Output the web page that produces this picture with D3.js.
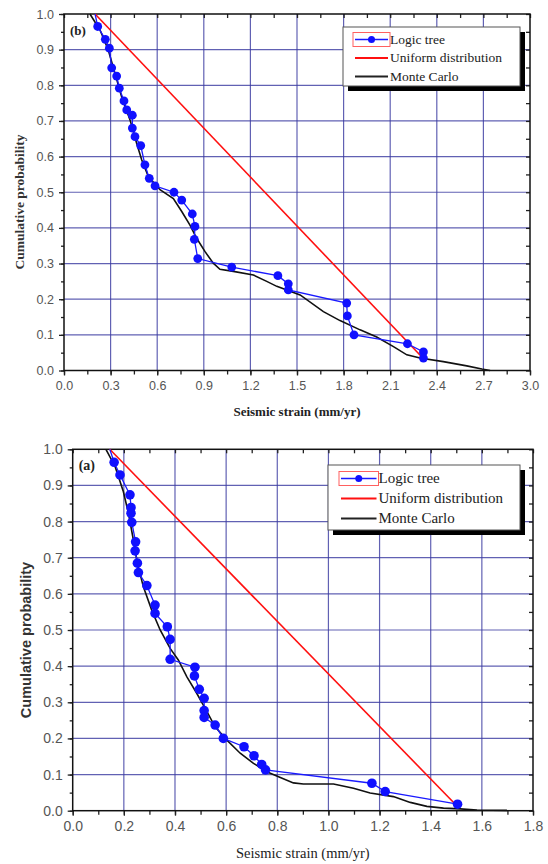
<!DOCTYPE html>
<html>
<head>
<meta charset="utf-8">
<script src="https://cdn.jsdelivr.net/npm/d3@7"></script>
<style>
  body { margin: 0; background: #fff; }
  svg { display: block; }
</style>
</head>
<body>
<script>
// panel (b): logic tree points, uniform line, monte carlo curve
var logicB = [[0.2,1.0],[0.217,0.965],[0.266,0.929],[0.292,0.904],[0.307,0.849],[0.339,0.826],[0.356,0.792],
  [0.386,0.756],[0.404,0.731],[0.44,0.716],[0.44,0.68],[0.457,0.656],[0.494,0.631],[0.521,0.577],
  [0.549,0.539],[0.586,0.518],[0.708,0.5],[0.758,0.478],[0.826,0.439],[0.843,0.404],[0.839,0.368],
  [0.861,0.314],[1.08,0.29],[1.377,0.266],[1.444,0.243],[1.444,0.226],[1.82,0.189],[1.824,0.153],
  [1.867,0.1],[2.211,0.075],[2.314,0.052],[2.314,0.035]];
var uniformB = [[0.2,1.0],[2.31,0.035]];
var monteB = [[0.167,1.0],[0.232,0.955],[0.285,0.899],[0.328,0.834],[0.371,0.768],[0.425,0.703],[0.468,0.637],
  [0.5,0.591],[0.543,0.544],[0.618,0.507],[0.704,0.482],[0.758,0.446],[0.811,0.408],[0.854,0.371],
  [0.907,0.334],[0.961,0.301],[1.004,0.284],[1.09,0.278],[1.219,0.268],[1.305,0.25],[1.37,0.236],
  [1.52,0.212],[1.67,0.165],[1.777,0.14],[1.906,0.114],[2.013,0.094],[2.121,0.067],[2.207,0.044],
  [2.292,0.035],[2.442,0.025],[2.593,0.013],[2.69,0.004],[2.743,0.0]];

// panel (a)
var logicA = [[0.145,1.0],[0.162,0.964],[0.185,0.929],[0.224,0.874],[0.228,0.839],[0.228,0.823],[0.231,0.798],
  [0.246,0.744],[0.244,0.719],[0.253,0.685],[0.257,0.659],[0.29,0.623],[0.322,0.569],[0.322,0.546],
  [0.37,0.509],[0.381,0.474],[0.381,0.419],[0.478,0.397],[0.476,0.373],[0.495,0.336],[0.514,0.311],
  [0.514,0.277],[0.514,0.258],[0.557,0.237],[0.589,0.2],[0.67,0.177],[0.709,0.152],[0.739,0.128],
  [0.754,0.113],[1.17,0.076],[1.222,0.053],[1.505,0.018]];
var uniformA = [[0.145,1.0],[1.5,0.015]];
var monteA = [[0.13,1.0],[0.166,0.952],[0.198,0.883],[0.218,0.823],[0.235,0.758],[0.253,0.685],[0.276,0.62],
  [0.309,0.555],[0.342,0.5],[0.381,0.449],[0.413,0.417],[0.446,0.371],[0.485,0.325],[0.518,0.283],
  [0.557,0.232],[0.602,0.196],[0.655,0.159],[0.707,0.131],[0.759,0.108],[0.805,0.094],[0.863,0.077],
  [0.902,0.074],[1.02,0.074],[1.098,0.062],[1.163,0.049],[1.254,0.039],[1.32,0.023],[1.385,0.012],
  [1.45,0.007],[1.515,0.005],[1.581,0.002],[1.698,0.001]];

var xTicksB = [0, 0.3, 0.6, 0.9, 1.2, 1.5, 1.8, 2.1, 2.4, 2.7, 3.0];
var xTicksA = [0, 0.2, 0.4, 0.6, 0.8, 1.0, 1.2, 1.4, 1.6, 1.8];
var yTicks = [0, 0.1, 0.2, 0.3, 0.4, 0.5, 0.6, 0.7, 0.8, 0.9, 1.0];
var legendNames = ["Logic tree", "Uniform distribution", "Monte Carlo"];

var svg = d3.select("body").append("svg")
  .attr("width", 548)
  .attr("height", 864);

var gridColor = "#3a3aa0";
var serif = "Liberation Serif, Times New Roman, serif";
var sans = "Liberation Sans, Arial, sans-serif";

function panel(opt) {
  var x = d3.scaleLinear().domain(opt.xDomain).range([opt.left, opt.right]);
  var y = d3.scaleLinear().domain([0, 1]).range([opt.bottom, opt.top]);
  var g = svg.append("g");
  var step = opt.xTicks[1] - opt.xTicks[0];
  var xMinor = d3.range(0, opt.xDomain[1] + 1e-9, step / 2);
  var yMinor = d3.range(0, 1.0001, 0.05);

  // grid
  g.selectAll(".gx").data(opt.xTicks.slice(1, -1)).enter().append("line")
    .attr("x1", d => x(d)).attr("x2", d => x(d))
    .attr("y1", opt.top).attr("y2", opt.bottom)
    .attr("stroke", gridColor).attr("stroke-opacity", 0.8).attr("stroke-width", 1.2);
  g.selectAll(".gy").data(yTicks.slice(1, -1)).enter().append("line")
    .attr("x1", opt.left).attr("x2", opt.right)
    .attr("y1", d => y(d)).attr("y2", d => y(d))
    .attr("stroke", gridColor).attr("stroke-opacity", 0.8).attr("stroke-width", 1.2);

  // axes
  g.append("g").attr("transform", "translate(0," + opt.bottom + ")")
    .call(d3.axisBottom(x).tickValues(xMinor).tickSize(4).tickFormat(""));
  g.append("g").attr("transform", "translate(0," + opt.bottom + ")")
    .call(d3.axisBottom(x).tickValues(opt.xTicks).tickSize(5).tickPadding(opt.xPad).tickFormat(d3.format(".1f")))
    .call(a => a.selectAll("text").attr("font-family", sans).attr("font-size", opt.tickFont).attr("fill", "#555"));
  g.append("g").attr("transform", "translate(0," + opt.top + ")")
    .call(d3.axisBottom(x).tickValues(xMinor).tickSize(4).tickFormat(""));
  g.append("g").attr("transform", "translate(" + opt.left + ",0)")
    .call(d3.axisLeft(y).tickValues(yMinor).tickSize(3).tickFormat(""));
  g.append("g").attr("transform", "translate(" + opt.left + ",0)")
    .call(d3.axisLeft(y).tickValues(yTicks).tickSize(5).tickPadding(5).tickFormat(d3.format(".1f")))
    .call(a => a.selectAll("text").attr("font-family", sans).attr("font-size", opt.tickFont).attr("fill", "#555"));
  g.append("g").attr("transform", "translate(" + opt.right + ",0)")
    .call(d3.axisLeft(y).tickValues(yMinor).tickSize(4).tickFormat(""));
  g.selectAll(".domain").remove();
  g.selectAll(".tick line").attr("stroke", "#222").attr("stroke-width", 1.3);

  g.append("rect")
    .attr("x", opt.left).attr("y", opt.top)
    .attr("width", opt.right - opt.left).attr("height", opt.bottom - opt.top)
    .attr("fill", "none").attr("stroke", "#111").attr("stroke-width", 1.5);

  var line = d3.line().x(d => x(d[0])).y(d => y(d[1]));
  var marks = g.append("g");

  marks.append("path").datum(opt.monte).attr("d", line)
    .attr("fill", "none").attr("stroke", "#111").attr("stroke-width", 1.6);
  marks.append("path").datum(opt.uniform).attr("d", line)
    .attr("fill", "none").attr("stroke", "#ff1010").attr("stroke-width", 1.6);
  marks.append("path").datum(opt.logic).attr("d", line)
    .attr("fill", "none").attr("stroke", "#1a1aff").attr("stroke-width", 1.3);
  marks.selectAll(".pt").data(opt.logic.slice(1)).enter().append("circle")
    .attr("cx", d => x(d[0])).attr("cy", d => y(d[1])).attr("r", opt.r)
    .attr("fill", "#1010ff");

  // panel letter
  g.append("text").attr("x", opt.left + 6).attr("y", opt.top + 21)
    .attr("font-family", serif).attr("font-weight", "bold")
    .attr("font-size", opt.letterFont).attr("fill", "#222").text(opt.letter);

  // axis titles
  g.append("text").attr("x", (opt.left + opt.right) / 2).attr("y", opt.xTitleY)
    .attr("text-anchor", "middle")
    .attr("font-family", serif).attr("font-weight", opt.xTitleWeight)
    .attr("font-size", opt.titleFont).attr("fill", "#222").text("Seismic strain (mm/yr)");
  g.append("text")
    .attr("transform", "translate(" + opt.yTitleX + "," + opt.yTitleY + ") rotate(-90)")
    .attr("text-anchor", "middle")
    .attr("font-family", opt.yTitleFamily).attr("font-weight", "bold")
    .attr("font-size", opt.yTitleFont).attr("fill", "#333").text("Cumulative probability");

  // legend
  var L = opt.legend;
  g.append("rect").attr("x", L.x + 5).attr("y", L.y + 5).attr("width", L.w).attr("height", L.h).attr("fill", "#000");
  g.append("rect").attr("x", L.x).attr("y", L.y).attr("width", L.w).attr("height", L.h)
    .attr("fill", "#fff").attr("stroke", "#555").attr("stroke-width", 1);
  var colors = ["#1a1aff", "#ff1010", "#222"];
  legendNames.forEach(function(name, i) {
    var yy = L.y + L.first + i * L.gap;
    if (i === 0) {
      g.append("rect").attr("x", L.x + L.s0 - 2).attr("y", yy - 7).attr("width", L.s1 - L.s0 + 4).attr("height", 14)
        .attr("fill", "none").attr("stroke", "#ff6060").attr("stroke-width", 1);
    }
    g.append("line").attr("x1", L.x + L.s0).attr("x2", L.x + L.s1).attr("y1", yy).attr("y2", yy)
      .attr("stroke", colors[i]).attr("stroke-width", i === 0 ? 1.4 : 1.8);
    if (i === 0) {
      g.append("circle").attr("cx", L.x + (L.s0 + L.s1) / 2).attr("cy", yy).attr("r", 3.5).attr("fill", "#1010ff");
    }
    g.append("text").attr("x", L.x + L.s1 + 2).attr("y", yy + L.font * 0.33)
      .attr("font-family", serif).attr("font-size", L.font)
      .attr("fill", "#222").text(name);
  });
}

panel({
  xDomain: [0, 3], xTicks: xTicksB, left: 64, right: 530, top: 14, bottom: 370.5,
  logic: logicB, uniform: uniformB, monte: monteB, r: 4.4, letter: "(b)",
  tickFont: 12.5, xPad: 6, letterFont: 13,
  titleFont: 13, xTitleWeight: "bold", xTitleY: 416,
  yTitleFamily: serif, yTitleFont: 13.5, yTitleX: 24, yTitleY: 202,
  legend: {x: 343, y: 27, w: 177, h: 59, first: 12.5, gap: 18.5, s0: 12, s1: 45, font: 13.5}
});

panel({
  xDomain: [0, 1.8], xTicks: xTicksA, left: 72.7, right: 533, top: 449.3, bottom: 810.7,
  logic: logicA, uniform: uniformA, monte: monteA, r: 4.8, letter: "(a)",
  tickFont: 14, xPad: 5, letterFont: 14,
  titleFont: 14.5, xTitleWeight: "normal", xTitleY: 858,
  yTitleFamily: "Liberation Sans Narrow, Arial Narrow, sans-serif", yTitleFont: 14.5, yTitleX: 31, yTitleY: 640,
  legend: {x: 328, y: 465, w: 192, h: 65, first: 13.5, gap: 20, s0: 13, s1: 48.5, font: 15}
});
</script>
</body>
</html>
